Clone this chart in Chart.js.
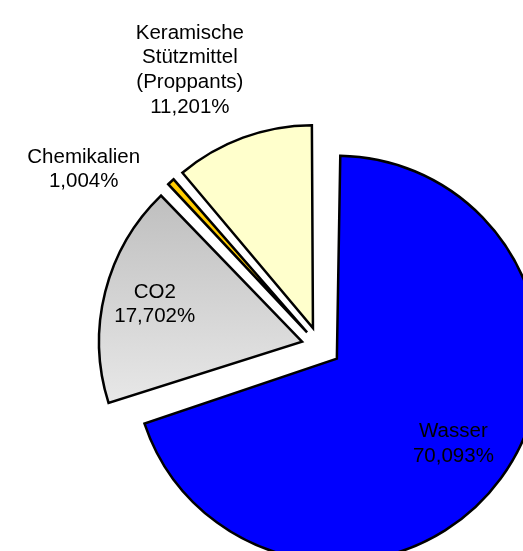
<!DOCTYPE html>
<html>
<head>
<meta charset="utf-8">
<script src="https://cdn.jsdelivr.net/npm/chart.js@4/dist/chart.umd.min.js"></script>
<style>
  html, body { margin: 0; padding: 0; background: #fff; }
  #wrap { width: 523px; height: 551px; }
</style>
</head>
<body>
<div id="wrap"><canvas id="pieChart" width="523" height="551"></canvas></div>
<script>
// slices, clockwise from 12 o'clock
const categories = ['Wasser', 'CO2', 'Chemikalien', ['Keramische', 'Stützmittel', '(Proppants)']];
const shares = [70.093, 17.702, 1.004, 11.201];

const sliceColors = ['#0000ff', 'co2gradient', '#ffcc00', '#ffffcc'];
const sliceOffsets = [86, 72, 74, 76];
// label placement: distance as fraction of radius, angle shift in degrees
const labelDist = [0.817, 0.837, 1.452, 1.502];
const labelShift = [0, 0, -11, -5];

const fmtPct = v => v.toFixed(3).replace('.', ',') + '%';

/* ---------------- Exploded slices keep one radius ---------------- */
// chart.js grows the radius of an offset arc by offset/4 * (1 - sin(angle)); take that back
const evenRadius = {
    id: 'evenRadius',
    afterDatasetUpdate(chart, args) {
        args.meta.data.forEach(arc => {
            const off = (arc.options.offset || 0) / 4;
            const fix = 1 - Math.sin(Math.min(Math.PI, arc.circumference));
            arc.outerRadius = args.meta.controller.outerRadius - off * fix;
        });
    }
};

/* ---------------- Labels ---------------- */
const sliceLabels = {
    id: 'sliceLabels',
    afterDatasetsDraw(chart) {
        const ctx = chart.ctx;
        const meta = chart.getDatasetMeta(0);
        const R = meta.controller.outerRadius;
        ctx.save();
        ctx.font = '20.5px "Liberation Sans", Arial, sans-serif';
        ctx.fillStyle = '#000';
        ctx.textAlign = 'center';
        ctx.textBaseline = 'middle';
        meta.data.forEach((arc, i) => {
            const mid = (arc.startAngle + arc.endAngle) / 2 + labelShift[i] * Math.PI / 180;
            const cx = arc.x + Math.cos(mid) * R * labelDist[i];
            const cy = arc.y + Math.sin(mid) * R * labelDist[i];
            const lines = [].concat(categories[i], fmtPct(shares[i]));
            const lh = 24.6;
            lines.forEach((t, k) => {
                ctx.fillText(t, cx, cy + (k - (lines.length - 1) / 2) * lh);
            });
        });
        ctx.restore();
    }
};

new Chart(document.getElementById('pieChart'), {
    type: 'pie',
    data: {
        labels: categories,
        datasets: [{
            data: shares,
            backgroundColor: (c) => {
                const col = sliceColors[c.dataIndex];
                if (col !== 'co2gradient') return col;
                const g = c.chart.ctx.createLinearGradient(0, 195, 0, 410);
                g.addColorStop(0, '#bebebe');
                g.addColorStop(1, '#e8e8e8');
                return g;
            },
            borderColor: '#000',
            borderWidth: 2.5,
            borderJoinStyle: 'miter',
            offset: sliceOffsets,
            clip: false
        }]
    },
    options: {
        responsive: false,
        animation: false,
        radius: 203,
        layout: { padding: { left: 116, top: 141, right: 0, bottom: 0 } },
        plugins: { legend: { display: false }, tooltip: { enabled: false } }
    },
    plugins: [evenRadius, sliceLabels]
});
</script>
</body>
</html>
